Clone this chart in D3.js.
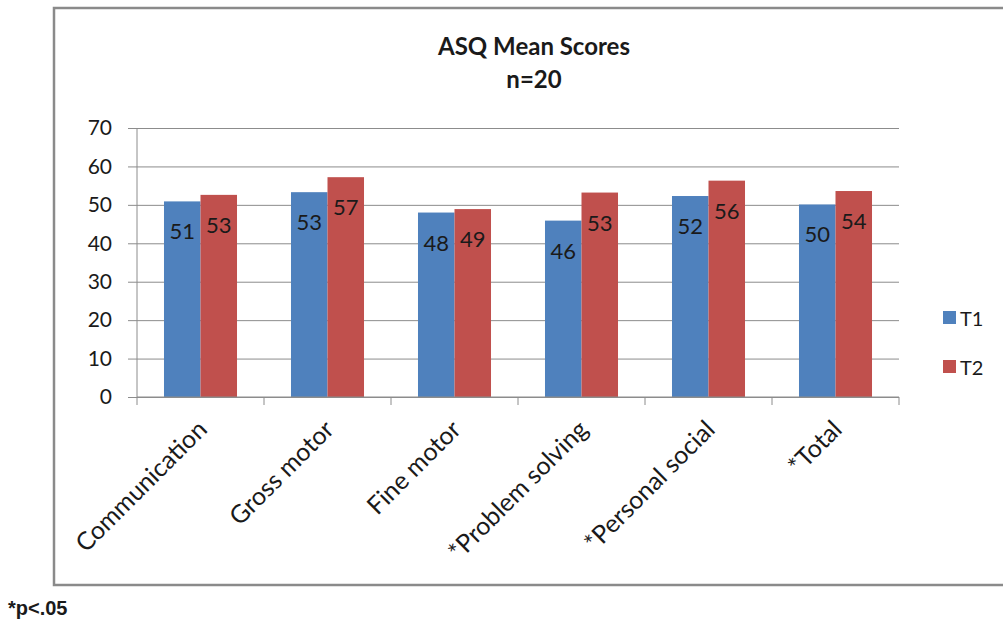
<!DOCTYPE html>
<html>
<head>
<meta charset="utf-8">
<script src="https://cdn.jsdelivr.net/npm/d3@7"></script>
<style>
  html, body { margin: 0; padding: 0; background: #fff; }
  svg { display: block; }
  text { font-family: Lato, "Open Sans", sans-serif; fill: #1a1a1a; }
</style>
</head>
<body>
<svg id="chart" width="1003" height="625"></svg>
<script>
// ASQ domain scores at two time points
const categories = ["Communication", "Gross motor", "Fine motor", "*Problem solving", "*Personal social", "*Total"];
const seriesNames = ["T1", "T2"];
const t1Values = [50.9, 53.3, 48.0, 45.9, 52.3, 50.1];
const t2Values = [52.6, 57.2, 48.9, 53.2, 56.3, 53.6];
const yTicks = [0, 10, 20, 30, 40, 50, 60, 70];
const colors = ["#4F81BD", "#C0504D"];

const series = [t1Values, t2Values];
const svg = d3.select("#chart");

// outer frame of the chart object
svg.append("rect")
  .attr("x", 54).attr("y", 8)
  .attr("width", 970).attr("height", 577)
  .attr("fill", "#fff")
  .attr("stroke", "#8a8a8a").attr("stroke-width", 2.5);

// title
svg.append("text").attr("x", 534).attr("y", 55)
  .attr("text-anchor", "middle")
  .style("font-size", "24px").style("font-weight", "bold")
  .text("ASQ Mean Scores");
svg.append("text").attr("x", 534).attr("y", 88)
  .attr("text-anchor", "middle")
  .style("font-size", "24px").style("font-weight", "bold")
  .text("n=20");

const plot = { left: 137, right: 899, top: 128, bottom: 397 };

const x = d3.scaleBand().domain(categories).range([plot.left, plot.right]).padding(0);
const y = d3.scaleLinear().domain([0, 70]).range([plot.bottom, plot.top]);
const barW = x.bandwidth() * 0.2875;

// horizontal gridlines with left tick stubs
const gy = svg.append("g")
  .attr("transform", `translate(${plot.left},0)`)
  .call(d3.axisLeft(y).tickValues(yTicks).tickSize(9).tickPadding(16).tickFormat(d3.format("d")));
gy.select(".domain").remove();
gy.selectAll(".tick line").attr("stroke", "#8c8c8c");
gy.selectAll(".tick text")
  .style("font-size", "21px").style("font-family", "Lato, sans-serif").attr("fill", "#1a1a1a");
gy.selectAll(".tick").append("line")
  .attr("x1", 0).attr("x2", plot.right - plot.left)
  .attr("stroke", "#8c8c8c");

// bars
const groups = svg.append("g").selectAll("g")
  .data(categories)
  .join("g")
  .attr("transform", d => `translate(${x(d) + x.bandwidth() / 2},0)`);

seriesNames.forEach((name, si) => {
  groups.append("rect")
    .attr("x", si === 0 ? -barW : 0)
    .attr("width", barW)
    .attr("y", (d, i) => y(series[si][i]))
    .attr("height", (d, i) => y(0) - y(series[si][i]))
    .attr("fill", colors[si]);
});

// value labels inside the bar tops
seriesNames.forEach((name, si) => {
  groups.append("text")
    .attr("x", si === 0 ? -barW / 2 : barW / 2)
    .attr("y", (d, i) => y(series[si][i]) + 38)
    .attr("text-anchor", "middle")
    .style("font-size", "22px")
    .text((d, i) => d3.format(".0f")(series[si][i]));
});

// y axis line
svg.append("line")
  .attr("x1", plot.left).attr("x2", plot.left)
  .attr("y1", plot.top).attr("y2", plot.bottom)
  .attr("stroke", "#8c8c8c");

// x axis with boundary ticks between categories
const boundaries = categories.map(c => x(c)).concat([plot.right]);
svg.append("line")
  .attr("x1", plot.left).attr("x2", plot.right)
  .attr("y1", plot.bottom).attr("y2", plot.bottom)
  .attr("stroke", "#8c8c8c");
svg.append("g").selectAll("line")
  .data(boundaries)
  .join("line")
  .attr("x1", d => d).attr("x2", d => d)
  .attr("y1", plot.bottom).attr("y2", plot.bottom + 8)
  .attr("stroke", "#8c8c8c");

// rotated category labels
svg.append("g").selectAll("text")
  .data(categories)
  .join("text")
  .attr("transform", d => `translate(${x(d) + x.bandwidth() / 2 + 8},431) rotate(-45)`)
  .attr("text-anchor", "end")
  .style("font-size", "25px")
  .text(d => d);

// legend
const legend = svg.append("g").selectAll("g")
  .data(seriesNames)
  .join("g")
  .attr("transform", (d, i) => `translate(943,${318 + i * 49})`);
legend.append("rect")
  .attr("x", 0).attr("y", -7)
  .attr("width", 13).attr("height", 13)
  .attr("fill", (d, i) => colors[i]);
legend.append("text")
  .attr("x", 17).attr("y", 8)
  .style("font-size", "20px")
  .text(d => d);

// significance note
svg.append("text")
  .attr("x", 8).attr("y", 615)
  .style("font-family", "'Liberation Sans', Arial, sans-serif")
  .style("font-size", "20px").style("font-weight", "bold")
  .attr("fill", "#000")
  .text("*p<.05");
</script>
</body>
</html>
